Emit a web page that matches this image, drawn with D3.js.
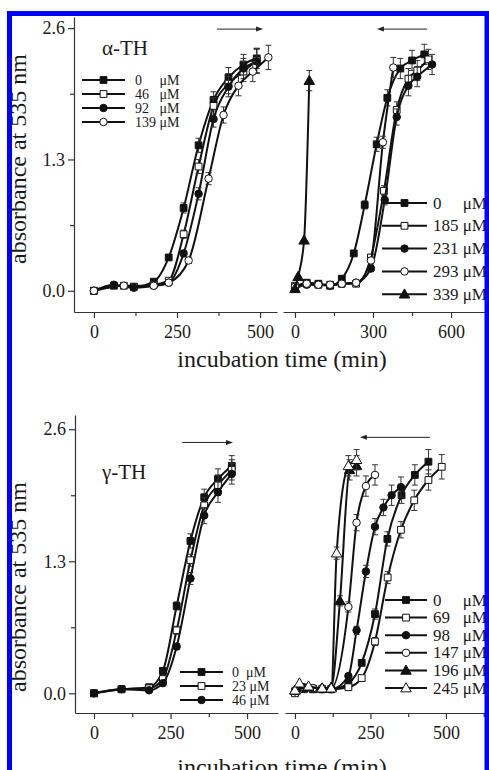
<!DOCTYPE html>
<html>
<head>
<meta charset="utf-8">
<script src="https://cdn.jsdelivr.net/npm/d3@7"></script>
<style>
body{margin:0;background:#fff;}
svg{display:block;}
text{font-family:"Liberation Serif","Times New Roman",serif;fill:#1a1a1a;}
.axis path,.axis line{stroke:#333;stroke-width:1.2;}
.axis text{font-size:18px;font-family:"Liberation Serif","Times New Roman",serif;fill:#1a1a1a;}
.legend text{white-space:pre;}
</style>
</head>
<body>
<script>
// each point: [time (min), absorbance, error]
// alpha-TH, low doses
var alphaLowLabels=["0     μM","46   μM","92   μM","139 μM"];
var alpha0=[[0,0,0],[60,0.05,0],[120,0.04,0],[180,0.09,0],[225,0.33,0],[270,0.82,0.05],[315,1.44,0.07],[360,1.89,0.08],[405,2.11,0.1],[450,2.24,0.1],[490,2.30,0.1]];
var alpha46=[[0,0,0],[90,0.05,0],[120,0.04,0],[180,0.06,0],[225,0.10,0],[270,0.56,0.04],[315,1.23,0.07],[360,1.83,0.08],[405,2.05,0.1],[450,2.17,0.1],[490,2.28,0.12]];
var alpha92=[[0,0,0],[60,0.06,0],[120,0.03,0],[180,0.05,0],[225,0.08,0],[270,0.37,0.03],[315,0.96,0.06],[360,1.70,0.08],[405,2.02,0.1],[450,2.20,0.1],[490,2.27,0.12]];
var alpha139=[[0,0,0],[90,0.05,0],[180,0.05,0],[225,0.08,0],[285,0.30,0.03],[345,1.11,0.06],[390,1.74,0.08],[435,2.03,0.1],[478,2.17,0.1],[525,2.31,0.12]];

// alpha-TH, high doses
var alphaHighLabels=["0     μM","185 μM","231 μM","293 μM","339 μM"];
var alphaH0=[[0,0.03,0],[45,0.08,0],[90,0.07,0],[135,0.05,0],[180,0.12,0],[226,0.37,0],[268,0.85,0.04],[314,1.45,0.07],[355,1.91,0.08],[405,2.20,0.1],[450,2.28,0.1],[497,2.34,0.1]];
var alphaH185=[[0,0.05,0],[45,0.07,0],[90,0.06,0],[135,0.06,0],[180,0.07,0],[235,0.07,0],[292,0.33,0.03],[342,0.99,0.05],[391,1.79,0.08],[436,2.10,0.1],[470,2.18,0.1],[513,2.29,0.1]];
var alphaH231=[[0,0.02,0],[45,0.06,0],[90,0.06,0],[135,0.05,0],[180,0.07,0],[235,0.08,0],[292,0.22,0.03],[345,0.90,0.05],[391,1.72,0.08],[436,2.03,0.1],[470,2.12,0.1],[527,2.24,0.1]];
var alphaH293=[[0,0.04,0],[45,0.07,0],[90,0.06,0],[135,0.06,0],[180,0.07,0],[235,0.08,0],[292,0.30,0.03],[338,1.47,0.06],[378,2.21,0.1]];
var alphaH339=[[0,0.02,0],[12,0.14,0],[35,0.50,0],[55,2.08,0.1]];

// gamma-TH, low doses
var gammaLowLabels=["0  μM","23 μM","46 μM"];
var gamma0=[[0,0,0],[90,0.04,0],[180,0.06,0],[225,0.22,0],[270,0.86,0.04],[315,1.50,0.07],[360,1.93,0.08],[405,2.11,0.1],[450,2.24,0.1]];
var gamma23=[[0,0,0],[90,0.04,0],[180,0.05,0],[225,0.14,0],[270,0.62,0.04],[315,1.31,0.06],[360,1.85,0.08],[405,2.05,0.1],[450,2.20,0.1]];
var gamma46=[[0,0,0],[90,0.04,0],[180,0.03,0],[225,0.10,0],[270,0.46,0.03],[315,1.13,0.06],[360,1.75,0.08],[405,1.98,0.1],[450,2.16,0.1]];

// gamma-TH, high doses
var gammaHighLabels=["0     μM","69   μM","98   μM","147 μM","196 μM","245 μM"];
var gammaH0=[[0,0.02,0],[30,0.05,0],[60,0.04,0],[90,0.04,0],[120,0.04,0],[177,0.10,0],[221,0.30,0],[265,0.78,0.05],[306,1.52,0.07],[353,1.95,0.08],[397,2.15,0.1],[442,2.28,0.12]];
var gammaH69=[[0,0,0],[30,0.04,0],[60,0.04,0],[90,0.04,0],[120,0.04,0],[177,0.06,0],[221,0.15,0],[265,0.51,0.04],[307,1.14,0.06],[351,1.61,0.08],[395,1.90,0.1],[442,2.10,0.1],[486,2.23,0.12]];
var gammaH98=[[0,0.02,0],[30,0.05,0],[60,0.05,0],[90,0.04,0],[120,0.04,0],[177,0.17,0],[204,0.62,0.04],[235,1.20,0.06],[265,1.64,0.08],[293,1.83,0.08],[320,1.95,0.1],[351,2.03,0.1]];
var gammaH147=[[0,0.02,0],[30,0.06,0],[60,0.05,0],[90,0.05,0],[120,0.05,0],[177,0.85,0.05],[204,1.68,0.08],[235,2.04,0.1],[265,2.15,0.1]];
var gammaH196=[[0,0.03,0],[15,0.08,0],[45,0.06,0],[90,0.05,0],[120,0.06,0],[149,0.91,0.05],[181,2.20,0.1],[204,2.24,0.1]];
var gammaH245=[[0,0.03,0],[15,0.10,0],[45,0.07,0],[90,0.05,0],[120,0.05,0],[138,1.38,0.06],[177,2.24,0.1],[204,2.30,0.1]];

var yTicks=[0,1.3,2.6], yMinor=[0.65,1.95];

var svg=d3.select('body').append('svg')
	.attr('width',489)
	.attr('height',770);
svg.append('rect').attr('width',489).attr('height',770).attr('fill','#fff');

var yTop=d3.scaleLinear().domain([-0.21,2.71]).range([312,17]);
var yBot=d3.scaleLinear().domain([-0.194,2.74]).range([713,415]);
var xTL=d3.scaleLinear().domain([-60,551]).range([74,277]);
var xTR=d3.scaleLinear().domain([-46,788]).range([283,500]);
var xBL=d3.scaleLinear().domain([-62,601]).range([75,278]);
var xBR=d3.scaleLinear().domain([-33,679]).range([285,500]);

function xAxis(x,y,major,minor){
	var g=svg.append('g').attr('class','axis').attr('transform','translate(0,'+y.range()[0]+')');
	g.call(d3.axisBottom(x).tickValues(major).tickSize(6).tickSizeOuter(0).tickPadding(7).tickFormat(d3.format('d')));
	var m=svg.append('g').attr('class','axis').attr('transform','translate(0,'+y.range()[0]+')');
	m.call(d3.axisBottom(x).tickValues(minor).tickSize(4).tickFormat(''));
	m.select('.domain').remove();
}
function yAxis(x,y){
	var g=svg.append('g').attr('class','axis').attr('transform','translate('+x.range()[0]+',0)');
	g.call(d3.axisLeft(y).tickValues(yTicks).tickSize(6).tickSizeOuter(0).tickPadding(3).tickFormat(d3.format('.1f')));
	var m=svg.append('g').attr('class','axis').attr('transform','translate('+x.range()[0]+',0)');
	m.call(d3.axisLeft(y).tickValues(yMinor).tickSize(4).tickFormat(''));
	m.select('.domain').remove();
}

var symbols={sq:d3.symbolSquare,ci:d3.symbolCircle,tr:d3.symbolTriangle};
function marker(g,style,px,py){
	var s=style.split('-');
	var size=s[0]=='sq'?46:(s[0]=='ci'?44:48);
	g.append('path')
		.attr('d',d3.symbol().type(symbols[s[0]]).size(size)())
		.attr('transform','translate('+px+','+(s[0]=='tr'?py+0.8:py)+')')
		.attr('fill',s[1]=='f'?'#111':'#fff')
		.attr('stroke','#111')
		.attr('stroke-width',1);
}

function series(x,y,data,style){
	var line=d3.line()
		.x(function(d){return x(d[0]);})
		.y(function(d){return y(d[1]);})
		.curve(d3.curveMonotoneX);
	svg.append('path').attr('d',line(data))
		.attr('fill','none').attr('stroke','#111').attr('stroke-width',2);
	var g=svg.append('g');
	data.forEach(function(d){
		if(d[2]>0){
			var px=x(d[0]),y0=y(d[1]-d[2]),y1=y(d[1]+d[2]);
			g.append('line').attr('x1',px).attr('x2',px).attr('y1',y0).attr('y2',y1).attr('stroke','#333').attr('stroke-width',1);
			g.append('line').attr('x1',px-3).attr('x2',px+3).attr('y1',y0).attr('y2',y0).attr('stroke','#333').attr('stroke-width',1);
			g.append('line').attr('x1',px-3).attr('x2',px+3).attr('y1',y1).attr('y2',y1).attr('stroke','#333').attr('stroke-width',1);
		}
	});
	data.forEach(function(d){marker(g,style,x(d[0]),y(d[1]));});
}

function legend(x0,x1,tx,rows,labels,styles,fs){
	var g=svg.append('g').attr('class','legend');
	labels.forEach(function(l,i){
		var yy=rows[0]+i*rows[1];
		g.append('line').attr('x1',x0).attr('x2',x1).attr('y1',yy).attr('y2',yy)
			.attr('stroke','#111').attr('stroke-width',2);
		marker(g,styles[i],(x0+x1)/2,yy);
		g.append('text').attr('x',tx).attr('y',yy+fs*0.33)
			.attr('font-size',fs+'px').text(l);
	});
}

function arrow(x,y,t0,t1,v){
	var a=x(t0),b=x(t1),yy=y(v),dir=b>a?1:-1;
	svg.append('line').attr('x1',a).attr('x2',b-dir*5).attr('y1',yy).attr('y2',yy)
		.attr('stroke','#222').attr('stroke-width',1);
	svg.append('path').attr('d','M'+b+','+yy+'L'+(b-dir*7)+','+(yy-2.5)+'L'+(b-dir*7)+','+(yy+2.5)+'Z')
		.attr('fill','#222');
}

// axes
xAxis(xTL,yTop,[0,250,500],[125,375]);
yAxis(xTL,yTop);
xAxis(xTR,yTop,[0,300,600],[150,450,750]);
xAxis(xBL,yBot,[0,250,500],[125,375]);
yAxis(xBL,yBot);
xAxis(xBR,yBot,[0,250,500],[125,375,625]);

// alpha-TH low
var stTL=['sq-f','sq-o','ci-f','ci-o'];
[alpha0,alpha46,alpha92,alpha139].forEach(function(d,i){series(xTL,yTop,d,stTL[i]);});
// alpha-TH high
var stTR=['sq-f','sq-o','ci-f','ci-o','tr-f'];
[alphaH0,alphaH185,alphaH231,alphaH293,alphaH339].forEach(function(d,i){series(xTR,yTop,d,stTR[i]);});
// gamma-TH low
var stBL=['sq-f','sq-o','ci-f'];
[gamma0,gamma23,gamma46].forEach(function(d,i){series(xBL,yBot,d,stBL[i]);});
// gamma-TH high
var stBR=['sq-f','sq-o','ci-f','ci-o','tr-f','tr-o'];
[gammaH0,gammaH69,gammaH98,gammaH147,gammaH196,gammaH245].forEach(function(d,i){series(xBR,yBot,d,stBR[i]);});

legend(82,125,135,[80,14],alphaLowLabels,stTL,14);
legend(382,427,433,[203,22.8],alphaHighLabels,stTR,17);
legend(180,223,232,[672,14],gammaLowLabels,stBL,14);
legend(385,427,433,[600,17.6],gammaHighLabels,stBR,17);

arrow(xTL,yTop,370,509,2.59);
arrow(xTR,yTop,508,315,2.59);
arrow(xBL,yBot,288,454,2.47);
arrow(xBR,yBot,447,215,2.52);

svg.append('text').attr('x',102).attr('y',55).attr('font-size','21px').text('α-TH');
svg.append('text').attr('x',102).attr('y',479).attr('font-size','21px').text('γ-TH');

svg.append('text')
	.attr('text-anchor','middle')
	.attr('transform','translate(26,159) rotate(-90)')
	.attr('font-size','24px')
	.text('absorbance at 535 nm');
svg.append('text')
	.attr('text-anchor','middle')
	.attr('transform','translate(26,587) rotate(-90)')
	.attr('font-size','24px')
	.text('absorbance at 535 nm');
svg.append('text').attr('x',282).attr('y',367).attr('text-anchor','middle').attr('font-size','24px').text('incubation time (min)');
svg.append('text').attr('x',282).attr('y',775).attr('text-anchor','middle').attr('font-size','24px').text('incubation time (min)');

// blue frame
svg.append('rect').attr('x',9.5).attr('y',13.5).attr('width',477.5).attr('height',800)
	.attr('fill','none').attr('stroke','#0000ff').attr('stroke-width',5);
</script>
</body>
</html>
